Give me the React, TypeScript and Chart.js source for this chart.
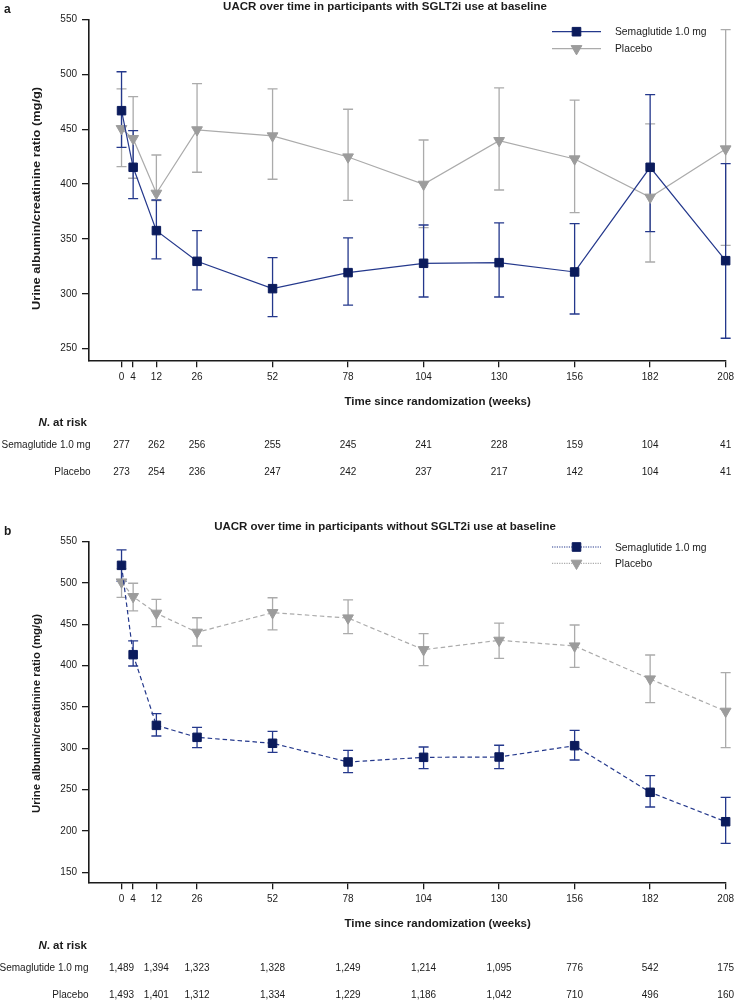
import React, { useEffect, useRef } from "react";
import { Chart, registerables } from "chart.js";

Chart.register(...registerables);

const FONT = '"Liberation Sans", Arial, Helvetica, sans-serif';
const TEXT = "#1b1b1b";
const AXIS = "#1b1b1b";
const NAVY_LINE = "#24388c";
const NAVY_FILL = "#0b1b5c";
const GREY_LINE = "#ababab";
const GREY_FILL = "#9c9c9c";

// ---- shared categories / labels ----
const weeks = [0, 4, 12, 26, 52, 78, 104, 130, 156, 182, 208];
const weekTicks = [0, 4, 12, 26, 52, 78, 104, 130, 156, 182, 208];
const riskWeeks = [0, 12, 26, 52, 78, 104, 130, 156, 182, 208];
const seriesNames = ["Semaglutide 1.0 mg", "Placebo"];
const yTitle = "Urine albumin/creatinine ratio (mg/g)";
const xTitle = "Time since randomization (weeks)";
const titleA = "UACR over time in participants with SGLT2i use at baseline";
const titleB = "UACR over time in participants without SGLT2i use at baseline";
const yTicksA = [250, 300, 350, 400, 450, 500, 550];
const yTicksB = [150, 200, 250, 300, 350, 400, 450, 500, 550];

// ---- panel a: with SGLT2i ----
const semaA = [466.9, 415.3, 357.6, 329.6, 304.7, 319.3, 327.8, 328.4, 319.9, 415.3, 330.2];
const semaALow = [433.5, 386.7, 331.8, 303.5, 279.2, 289.6, 297.1, 297.1, 281.6, 356.6, 259.5];
const semaAHigh = [502.4, 448.7, 385.5, 357.6, 333.0, 350.9, 362.7, 364.6, 364.0, 481.5, 418.6];
const placeboA = [450.5, 441.4, 391.6, 449.4, 443.9, 424.7, 399.8, 439.6, 422.9, 388.0, 432.0];
const placeboALow = [415.9, 405.3, 385.0, 410.8, 404.4, 385.2, 360.3, 394.6, 374.0, 329.0, 344.2];
const placeboAHigh = [486.7, 479.7, 426.5, 491.5, 486.7, 468.2, 440.2, 487.6, 476.6, 454.8, 540.7];
const semaRiskA = ["277", "262", "256", "255", "245", "241", "228", "159", "104", "41"];
const placeboRiskA = ["273", "254", "236", "247", "242", "237", "217", "142", "104", "41"];

// ---- panel b: without SGLT2i ----
const semaB = [521.4, 413.3, 327.8, 313.3, 306.1, 283.5, 289.1, 289.5, 303.2, 246.8, 211.2];
const semaBLow = [502.0, 399.6, 314.9, 300.8, 295.2, 270.5, 275.4, 275.4, 285.9, 229.0, 185.1];
const semaBHigh = [540.0, 429.9, 341.9, 325.4, 320.6, 297.6, 301.6, 303.7, 321.8, 266.9, 240.7];
const placeboB = [501.2, 483.5, 463.4, 440.4, 464.1, 457.7, 419.3, 430.7, 423.8, 383.9, 344.8];
const placeboBLow = [482.7, 466.2, 447.2, 423.8, 443.2, 438.7, 400.0, 408.9, 398.0, 355.2, 300.8];
const placeboBHigh = [517.0, 499.7, 480.3, 458.0, 482.2, 479.5, 438.7, 451.6, 449.2, 412.9, 391.5];
const semaRiskB = ["1,489", "1,394", "1,323", "1,328", "1,249", "1,214", "1,095", "776", "542", "175"];
const placeboRiskB = ["1,493", "1,401", "1,312", "1,334", "1,229", "1,186", "1,042", "710", "496", "160"];

interface PanelSpec {
  letter: string;
  title: string;
  sema: number[];
  semaLow: number[];
  semaHigh: number[];
  placebo: number[];
  placeboLow: number[];
  placeboHigh: number[];
  semaRisk: string[];
  placeboRisk: string[];
  yTicks: number[];
  yMin: number;
  yMax: number;
  areaTop: number;
  areaBottom: number;
  dash: number[];
  legendDash: number[];
  pos: {
    letterY: number;
    titleY: number;
    yTitleY: number;
    yTitleLen: number;
    xTitleY: number;
    nRiskY: number;
    row1Y: number;
    row2Y: number;
    rowLabelX: number;
    legend1Y: number;
    legend2Y: number;
    legendText1Y: number;
    legendText2Y: number;
  };
}

const panelA: PanelSpec = {
  letter: "a",
  title: titleA,
  sema: semaA,
  semaLow: semaALow,
  semaHigh: semaAHigh,
  placebo: placeboA,
  placeboLow: placeboALow,
  placeboHigh: placeboAHigh,
  semaRisk: semaRiskA,
  placeboRisk: placeboRiskA,
  yTicks: yTicksA,
  yMin: 239.4,
  yMax: 550,
  areaTop: 19.5,
  areaBottom: 360.3,
  dash: [],
  legendDash: [],
  pos: {
    letterY: 13.3,
    titleY: 9.5,
    yTitleY: 198.5,
    yTitleLen: 223,
    xTitleY: 405,
    nRiskY: 425.5,
    row1Y: 448.3,
    row2Y: 475,
    rowLabelX: 90.5,
    legend1Y: 31.7,
    legend2Y: 48.7,
    legendText1Y: 35.3,
    legendText2Y: 51.9,
  },
};

const panelB: PanelSpec = {
  letter: "b",
  title: titleB,
  sema: semaB,
  semaLow: semaBLow,
  semaHigh: semaBHigh,
  placebo: placeboB,
  placeboLow: placeboBLow,
  placeboHigh: placeboBHigh,
  semaRisk: semaRiskB,
  placeboRisk: placeboRiskB,
  yTicks: yTicksB,
  yMin: 137.9,
  yMax: 550,
  areaTop: 41.7,
  areaBottom: 382.3,
  dash: [4.5, 3],
  legendDash: [1.2, 1.2],
  pos: {
    letterY: 35,
    titleY: 29.7,
    yTitleY: 213.5,
    yTitleLen: 199,
    xTitleY: 427,
    nRiskY: 449.3,
    row1Y: 471,
    row2Y: 497.5,
    rowLabelX: 88.5,
    legend1Y: 47,
    legend2Y: 63.3,
    legendText1Y: 50.7,
    legendText2Y: 66.9,
  },
};

function drawSquare(ctx: CanvasRenderingContext2D, x: number, y: number) {
  const s = 4.3;
  ctx.fillStyle = NAVY_FILL;
  ctx.strokeStyle = NAVY_FILL;
  ctx.lineWidth = 1;
  ctx.setLineDash([]);
  ctx.beginPath();
  ctx.rect(x - s, y - s, 2 * s, 2 * s);
  ctx.fill();
  ctx.stroke();
}

function drawTriangle(ctx: CanvasRenderingContext2D, x: number, y: number) {
  const r = 6.2;
  ctx.fillStyle = GREY_FILL;
  ctx.strokeStyle = GREY_FILL;
  ctx.lineWidth = 1;
  ctx.setLineDash([]);
  ctx.beginPath();
  for (let k = 0; k < 3; k++) {
    const a = Math.PI + (k * 2 * Math.PI) / 3;
    const px = x + Math.sin(a) * r;
    const py = y - Math.cos(a) * r;
    if (k === 0) ctx.moveTo(px, py);
    else ctx.lineTo(px, py);
  }
  ctx.closePath();
  ctx.fill();
  ctx.stroke();
}

function Panel({ p }: { p: PanelSpec }) {
  const ref = useRef<HTMLCanvasElement>(null);

  useEffect(() => {
    const canvas = ref.current;
    if (!canvas) return;

    const errorBars = {
      id: "errorBars",
      beforeDatasetsDraw(chart: any) {
        const { ctx } = chart;
        const xs = chart.scales.x;
        const ys = chart.scales.y;
        const groups = [
          { low: p.placeboLow, high: p.placeboHigh, color: GREY_LINE },
          { low: p.semaLow, high: p.semaHigh, color: NAVY_LINE },
        ];
        ctx.save();
        ctx.setLineDash([]);
        ctx.lineWidth = 1.3;
        for (const g of groups) {
          ctx.strokeStyle = g.color;
          for (let i = 0; i < weeks.length; i++) {
            const x = xs.getPixelForValue(weeks[i]);
            const y1 = ys.getPixelForValue(g.high[i]);
            const y2 = ys.getPixelForValue(g.low[i]);
            ctx.beginPath();
            ctx.moveTo(x, y1);
            ctx.lineTo(x, y2);
            ctx.moveTo(x - 5, y1);
            ctx.lineTo(x + 5, y1);
            ctx.moveTo(x - 5, y2);
            ctx.lineTo(x + 5, y2);
            ctx.stroke();
          }
        }
        ctx.restore();
      },
    };

    const annotations = {
      id: "annotations",
      afterDraw(chart: any) {
        const { ctx } = chart;
        const xs = chart.scales.x;
        const q = p.pos;
        ctx.save();
        ctx.fillStyle = TEXT;
        ctx.textBaseline = "alphabetic";

        // panel letter
        ctx.font = `bold 12px ${FONT}`;
        ctx.textAlign = "left";
        ctx.fillText(p.letter, 4, q.letterY);

        // title
        ctx.font = `bold 11.5px ${FONT}`;
        ctx.textAlign = "center";
        ctx.fillText(p.title, 385, q.titleY);

        // y axis title (rotated)
        ctx.save();
        ctx.translate(37, q.yTitleY);
        ctx.rotate(-Math.PI / 2);
        ctx.font = `bold 11.5px ${FONT}`;
        const w = ctx.measureText(yTitle).width;
        ctx.scale(q.yTitleLen / w, 1);
        ctx.textAlign = "center";
        ctx.textBaseline = "middle";
        ctx.fillText(yTitle, 0, 0);
        ctx.restore();

        // x axis title
        ctx.font = `bold 11.5px ${FONT}`;
        ctx.textAlign = "center";
        ctx.fillText(xTitle, 437.6, q.xTitleY);

        // N. at risk
        ctx.font = `bold 11.5px ${FONT}`;
        ctx.textAlign = "right";
        const rest = ". at risk";
        ctx.fillText(rest, 87, q.nRiskY);
        const rw = ctx.measureText(rest).width;
        ctx.font = `italic bold 11.5px ${FONT}`;
        ctx.fillText("N", 87 - rw, q.nRiskY);

        // rows
        ctx.font = `10px ${FONT}`;
        ctx.textAlign = "right";
        ctx.fillText(seriesNames[0], q.rowLabelX, q.row1Y);
        ctx.fillText(seriesNames[1], q.rowLabelX, q.row2Y);
        ctx.textAlign = "center";
        for (let i = 0; i < riskWeeks.length; i++) {
          const x = xs.getPixelForValue(riskWeeks[i]);
          ctx.fillText(p.semaRisk[i], x, q.row1Y);
          ctx.fillText(p.placeboRisk[i], x, q.row2Y);
        }

        // legend
        ctx.lineWidth = 1.2;
        ctx.setLineDash(p.legendDash);
        ctx.strokeStyle = NAVY_LINE;
        ctx.beginPath();
        ctx.moveTo(552, q.legend1Y);
        ctx.lineTo(601, q.legend1Y);
        ctx.stroke();
        ctx.setLineDash(p.legendDash);
        ctx.strokeStyle = GREY_LINE;
        ctx.beginPath();
        ctx.moveTo(552, q.legend2Y);
        ctx.lineTo(601, q.legend2Y);
        ctx.stroke();
        drawSquare(ctx, 576.5, q.legend1Y);
        drawTriangle(ctx, 576.5, q.legend2Y);
        ctx.fillStyle = TEXT;
        ctx.font = `10.3px ${FONT}`;
        ctx.textAlign = "left";
        ctx.textBaseline = "alphabetic";
        ctx.fillText(seriesNames[0], 615, q.legendText1Y);
        ctx.fillText(seriesNames[1], 615, q.legendText2Y);

        ctx.restore();
      },
    };

    const chart = new Chart(canvas, {
      type: "line",
      data: {
        datasets: [
          {
            label: seriesNames[0],
            data: weeks.map((w, i) => ({ x: w, y: p.sema[i] })),
            borderColor: NAVY_LINE,
            borderWidth: 1.2,
            borderDash: p.dash,
            pointStyle: "rect",
            pointRadius: 6,
            pointBackgroundColor: NAVY_FILL,
            pointBorderColor: NAVY_FILL,
            pointBorderWidth: 1,
            tension: 0,
            clip: false,
          },
          {
            label: seriesNames[1],
            data: weeks.map((w, i) => ({ x: w, y: p.placebo[i] })),
            borderColor: GREY_LINE,
            borderWidth: 1.2,
            borderDash: p.dash,
            pointStyle: "triangle",
            pointRotation: 180,
            pointRadius: 6.2,
            pointBackgroundColor: GREY_FILL,
            pointBorderColor: GREY_FILL,
            pointBorderWidth: 1,
            tension: 0,
            clip: false,
          },
        ],
      },
      options: {
        responsive: false,
        animation: false,
        layout: { padding: { left: 0, right: 8, top: p.areaTop, bottom: 0 } },
        plugins: {
          legend: { display: false },
          tooltip: { enabled: false },
          title: { display: false },
        },
        scales: {
          x: {
            type: "linear",
            min: -11.2,
            max: 208,
            afterBuildTicks: (s: any) => {
              s.ticks = weekTicks.map((v) => ({ value: v }));
            },
            afterFit: (s: any) => {
              s.height = 500 - p.areaBottom;
            },
            ticks: {
              font: { size: 10, family: FONT },
              color: TEXT,
              padding: 4,
              maxRotation: 0,
              autoSkip: false,
              callback: (v: any) => String(v),
            },
            grid: {
              drawOnChartArea: false,
              drawTicks: true,
              tickLength: 7,
              color: AXIS,
              lineWidth: 1.3,
            },
            border: { display: true, color: AXIS, width: 1.6 },
          },
          y: {
            type: "linear",
            min: p.yMin,
            max: p.yMax,
            afterBuildTicks: (s: any) => {
              s.ticks = p.yTicks.map((v) => ({ value: v }));
            },
            afterFit: (s: any) => {
              s.width = 89;
            },
            ticks: {
              font: { size: 10, family: FONT },
              color: TEXT,
              padding: 5,
              autoSkip: false,
              callback: (v: any) => String(v),
            },
            grid: {
              drawOnChartArea: false,
              drawTicks: true,
              tickLength: 7,
              color: AXIS,
              lineWidth: 1.3,
            },
            border: { display: true, color: AXIS, width: 1.6 },
          },
        },
      } as any,
      plugins: [errorBars, annotations],
    });

    return () => chart.destroy();
  }, [p]);

  return (
    <canvas
      ref={ref}
      width={738}
      height={500}
      style={{ display: "block", width: 738, height: 500 }}
    />
  );
}

export default function App() {
  return (
    <div
      style={{
        position: "absolute",
        left: 0,
        top: 0,
        width: 738,
        height: 1000,
        background: "#ffffff",
      }}
    >
      <Panel p={panelA} />
      <Panel p={panelB} />
    </div>
  );
}
